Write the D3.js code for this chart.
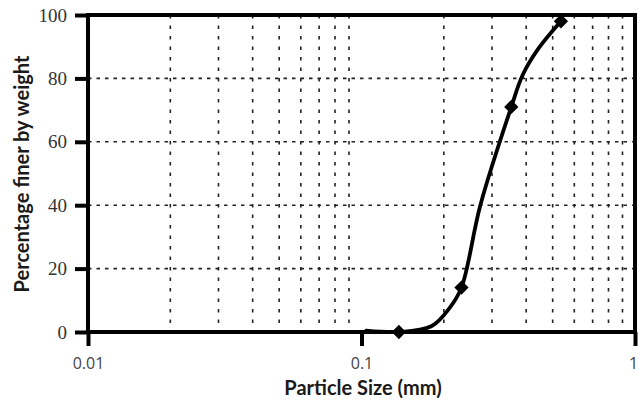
<!DOCTYPE html>
<html>
<head>
<meta charset="utf-8">
<script src="https://cdn.jsdelivr.net/npm/d3@7"></script>
<style>
  body { margin: 0; background: #fff; }
  svg { display: block; }
  .ytick { font-family: 'Liberation Serif', serif; font-size: 19px; fill: #333; }
  .xtick { font-family: 'Open Sans', sans-serif; font-size: 16px; fill: #444; }
  .title { font-family: Lato, 'Open Sans', sans-serif; font-weight: bold; font-size: 20px; fill: #1a1a1a; }
</style>
</head>
<body>
<div id="chart"></div>
<script>
// sieve analysis
const sizes = [0.137, 0.232, 0.353, 0.536];   // mm, marked points
const finer = [0, 14, 71, 98];                // % finer
// points read along the drawn (smoothed) curve, markers included
const curveSizes = [0.104, 0.137, 0.18, 0.21, 0.232, 0.272, 0.353, 0.388, 0.44, 0.536];
const curveFiner = [0.4, 0, 1.8, 7.6, 14, 40, 71, 81, 89, 98];

const yTicks = [0, 20, 40, 60, 80, 100];
const xTicks = [0.01, 0.1, 1];
const xTickLabels = ['0.01', '0.1', '1'];
const yGrid = [20, 40, 60, 80];
const xGrid = [0.02, 0.03, 0.04, 0.05, 0.06, 0.07, 0.08, 0.09,
  0.2, 0.3, 0.4, 0.5, 0.6, 0.7, 0.8, 0.9];

const width = 640;
const height = 404;
const margin = { top: 15, right: 5, bottom: 72, left: 88 };

const svg = d3.select('#chart')
  .append('svg')
  .attr('width', width)
  .attr('height', height);

const x = d3.scaleLog().domain([0.01, 1]).range([margin.left, width - margin.right]);
const y = d3.scaleLinear().domain([0, 100]).range([height - margin.bottom, margin.top]);

// gridlines
svg.append('g')
  .selectAll('line')
  .data(xGrid)
  .enter()
  .append('line')
  .attr('x1', d => x(d))
  .attr('x2', d => x(d))
  .attr('y1', y(100))
  .attr('y2', y(0))
  .attr('stroke', '#222')
  .attr('stroke-width', 1.6)
  .attr('stroke-dasharray', '3.5,7');

svg.append('g')
  .selectAll('line')
  .data(yGrid)
  .enter()
  .append('line')
  .attr('x1', x(0.01))
  .attr('x2', x(1))
  .attr('y1', d => y(d))
  .attr('y2', d => y(d))
  .attr('stroke', '#222')
  .attr('stroke-width', 1.6)
  .attr('stroke-dasharray', '3.5,5');

// frame
svg.append('rect')
  .attr('x', x(0.01))
  .attr('y', y(100))
  .attr('width', x(1) - x(0.01))
  .attr('height', y(0) - y(100))
  .attr('fill', 'none')
  .attr('stroke', '#000')
  .attr('stroke-width', 4);

// axes (ticks only, frame draws the lines)
const yAxis = d3.axisLeft(y).tickValues(yTicks).tickSize(13).tickPadding(8);
const yg = svg.append('g')
  .attr('transform', `translate(${x(0.01)}, 0)`)
  .call(yAxis);
yg.select('.domain').remove();
yg.selectAll('.tick line').attr('stroke', '#000').attr('stroke-width', 4);
yg.selectAll('.tick text').attr('class', 'ytick').attr('fill', null);
yg.attr('font-size', null).attr('font-family', null);

const xAxis = d3.axisBottom(x).tickValues(xTicks)
  .tickFormat((d, i) => xTickLabels[i]).tickSize(14).tickPadding(12);
const xg = svg.append('g')
  .attr('transform', `translate(0, ${y(0)})`)
  .call(xAxis);
xg.select('.domain').remove();
xg.selectAll('.tick line').attr('stroke', '#000').attr('stroke-width', 4);
xg.selectAll('.tick text').attr('class', 'xtick').attr('fill', null);
xg.attr('font-size', null).attr('font-family', null);
xg.selectAll('.tick text').filter(d => d === 1).attr('dx', -2);

// grading curve
const curvePts = curveSizes.map((s, i) => [s, curveFiner[i]]);
const line = d3.line()
  .x(d => x(d[0]))
  .y(d => y(d[1]))
  .curve(d3.curveCatmullRom.alpha(0.5));

svg.append('path')
  .datum(curvePts)
  .attr('d', line)
  .attr('fill', 'none')
  .attr('stroke', '#000')
  .attr('stroke-width', 3.8)
  .attr('stroke-linecap', 'round');

svg.selectAll('.pt')
  .data(sizes)
  .enter()
  .append('path')
  .attr('class', 'pt')
  .attr('transform', (d, i) => `translate(${x(d)}, ${y(finer[i])})`)
  .attr('d', d3.symbol().type(d3.symbolDiamond2).size(130))
  .attr('fill', '#000');

// titles
svg.append('text')
  .attr('class', 'title')
  .attr('text-anchor', 'middle')
  .attr('x', 363)
  .attr('y', 395)
  .text('Particle Size (mm)');

svg.append('text')
  .attr('class', 'title')
  .attr('text-anchor', 'middle')
  .attr('transform', 'translate(29, 174) rotate(-90)')
  .text('Percentage finer by weight');
</script>
</body>
</html>
